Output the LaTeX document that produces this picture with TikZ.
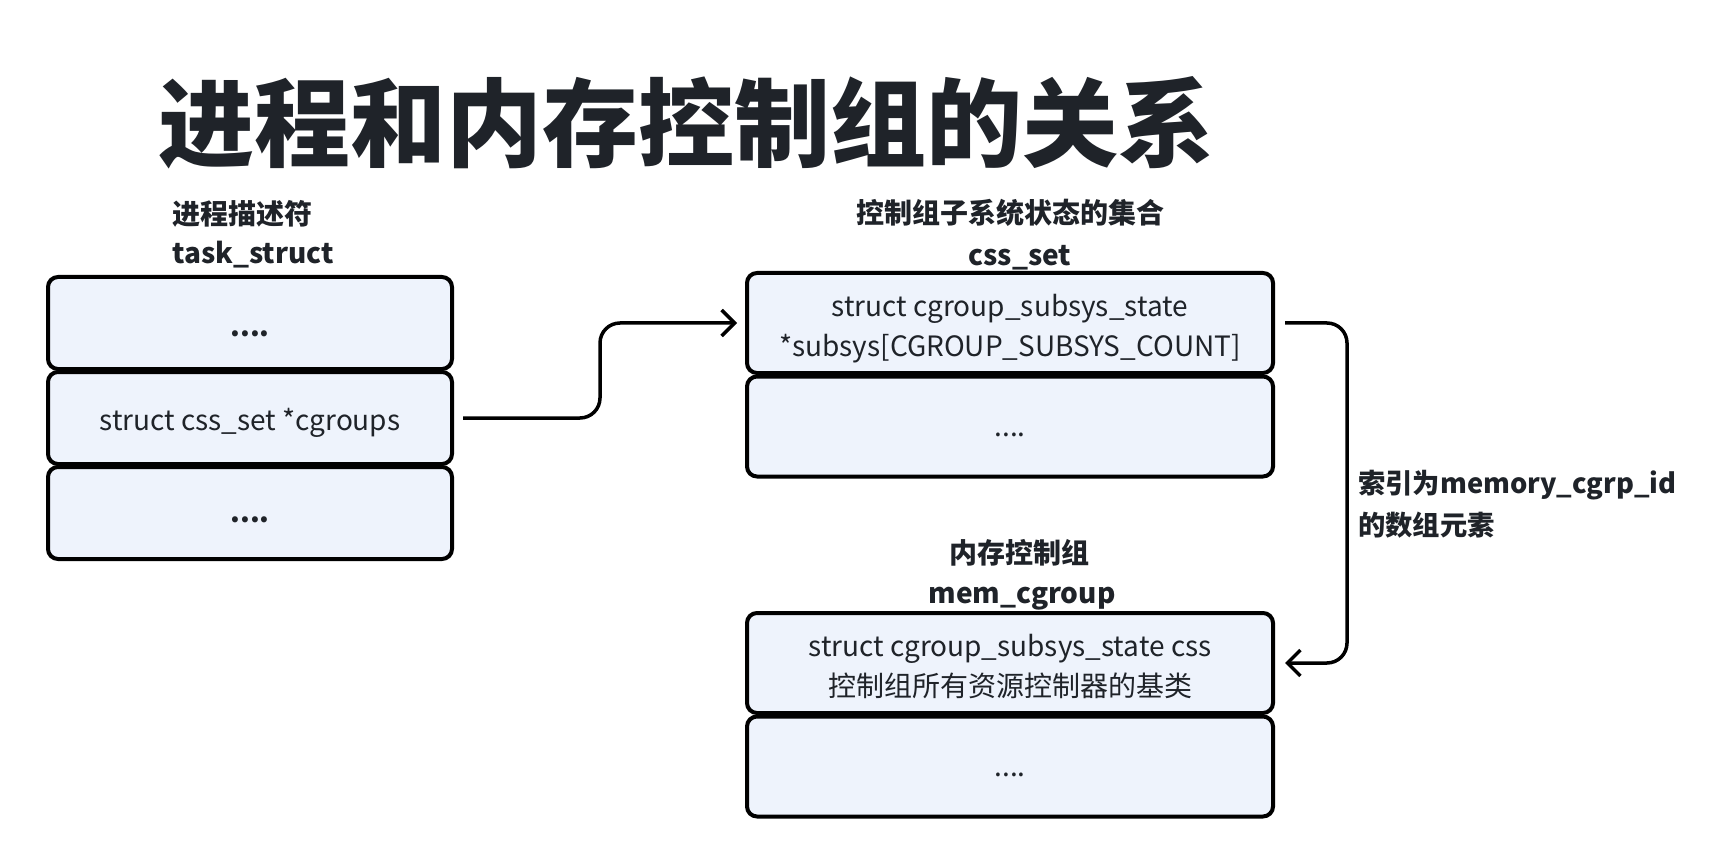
\documentclass[tikz,border=0pt]{standalone}
\usepackage{fontspec}
\setmainfont{Noto Sans CJK SC}
\usetikzlibrary{arrows.meta,calc}
\definecolor{txt}{HTML}{1F2329}
\definecolor{boxfill}{HTML}{EEF3FC}
\tikzset{
  cell/.style={draw=black, fill=boxfill, line width=4pt, rounded corners=10pt,
    inner sep=0pt},
  celltext/.style={inner sep=0pt, align=center, text=txt,
    font=\fontsize{28}{40}\selectfont},
  head/.style={inner sep=0pt, text=txt, font=\fontsize{28}{40}\selectfont\bfseries},
  link/.style={draw=black, line width=3.5pt, rounded corners=20pt,
    -{Straight Barb[length=13pt,width=26pt,line width=3.5pt]}},
}
\begin{document}
\begin{tikzpicture}[x=1pt,y=-1pt]
\useasboundingbox (0,0) rectangle (1726,866);
% title
\node[inner sep=0pt, text=txt, font=\fontsize{96}{110}\selectfont\bfseries] (title) at (686,123) {进程和内存控制组的关系};
% task_struct
\node[head, anchor=west] (th1) at (172,214) {进程描述符};
\node[head, anchor=west] (th2) at (172,255) {task\_struct};
\node[cell, minimum width=404pt, minimum height=92pt] (t1) at (250,323) {};
\node[cell, minimum width=404pt, minimum height=92pt] (t2) at (250,418) {};
\node[cell, minimum width=404pt, minimum height=92pt] (t3) at (250,513) {};
\node[celltext, font=\fontsize{28}{40}\selectfont\bfseries] (t1t) at ([yshift=-11pt]t1.center) {....};
\node[celltext] (t2t) at ([yshift=-4.5pt]t2.center) {struct css\_set *cgroups};
\node[celltext, font=\fontsize{28}{40}\selectfont\bfseries] (t3t) at ([yshift=-7pt]t3.center) {....};
% css_set
\node[head] (ch1) at (1010,213) {控制组子系统状态的集合};
\node[head] (ch2) at (1020,258) {css\_set};
\node[cell, minimum width=526pt, minimum height=100pt] (c1) at (1010,323) {};
\node[cell, minimum width=526pt, minimum height=100pt] (c2) at (1010,426.5) {};
\node[celltext] (c1t) at ([yshift=-6pt]c1.center) {struct cgroup\_subsys\_state\\*subsys[CGROUP\_SUBSYS\_COUNT]};
\node[celltext] (c2t) at ([yshift=-8.5pt]c2.center) {....};
% mem_cgroup
\node[head] (mh1) at (1019,553) {内存控制组};
\node[head] (mh2) at (1022,599) {mem\_cgroup};
\node[cell, minimum width=526pt, minimum height=100pt] (m1) at (1010,663) {};
\node[cell, minimum width=526pt, minimum height=100pt] (m2) at (1010,766.5) {};
\node[celltext] (m1t) at ([yshift=-3.5pt]m1.center) {struct cgroup\_subsys\_state css\\控制组所有资源控制器的基类};
\node[celltext] (m2t) at ([yshift=-8.5pt]m2.center) {....};
% edge label
\node[head, anchor=north west, align=left, font=\fontsize{27.3}{42}\selectfont\bfseries] (lbl) at (1358,470) {索引为memory\_cgrp\_id\\的数组元素};
% connectors
\coordinate (k1) at (600,323);
\coordinate (k2) at (1347,663);
\draw[link] ([xshift=9pt]t2.east) -| (k1) -- ([xshift=-8pt]c1.west);
\draw[link] ([xshift=10pt]c1.east) -| (k2) -- ([xshift=10pt]m1.east);
\end{tikzpicture}
\end{document}
